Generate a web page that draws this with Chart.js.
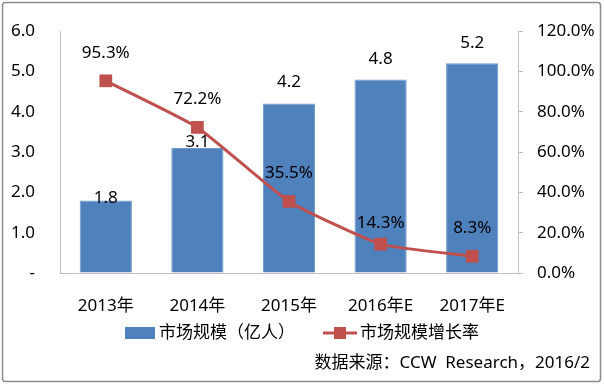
<!DOCTYPE html>
<html>
<head>
<meta charset="utf-8">
<script src="https://cdn.jsdelivr.net/npm/chart.js@4.4.1/dist/chart.umd.min.js"></script>
<style>
html,body{margin:0;padding:0;background:#fff;}
#wrap{width:604px;height:384px;position:relative;}
</style>
</head>
<body>
<div id="wrap"><canvas id="c" width="604" height="384"></canvas></div>
<script>
const categories = ['2013年', '2014年', '2015年', '2016年E', '2017年E'];
const marketSize = [1.8, 3.1, 4.2, 4.8, 5.2];
const growthRate = [95.3, 72.2, 35.5, 14.3, 8.3];
const barName = '市场规模（亿人）';
const lineName = '市场规模增长率';
const sourceText = '数据来源：CCW  Research，2016/2';

const FONT = "'Noto Sans', 'Noto Sans CJK SC', sans-serif";
const BLUE = '#4F81BD';
const RED = '#C0504D';
const AXIS = '#BFBFBF';
const TEXT = '#000000';

// per-bar label lift above bar top (px), as placed in the original
const barLabelLift = [2, 6, 21, 20, 20];

const extras = {
  id: 'extras',
  beforeDraw(chart) {
    const ctx = chart.ctx;
    ctx.save();
    ctx.fillStyle = '#fff';
    ctx.fillRect(0, 0, chart.width, chart.height);
    ctx.strokeStyle = '#8C8C8C';
    ctx.lineWidth = 1.5;
    ctx.beginPath();
    ctx.roundRect(2.5, 2.5, 598, 379, 3);
    ctx.stroke();
    ctx.restore();
  },
  afterDatasetsDraw(chart) {
    const ctx = chart.ctx;
    ctx.save();
    ctx.font = '17px ' + FONT;
    ctx.fillStyle = TEXT;
    ctx.textAlign = 'center';
    ctx.textBaseline = 'middle';
    chart.getDatasetMeta(1).data.forEach((el, i) => {
      ctx.fillText(marketSize[i].toFixed(1), el.x, el.y - barLabelLift[i]);
    });
    chart.getDatasetMeta(0).data.forEach((el, i) => {
      const lift = i === 3 ? 21 : 28;
      ctx.fillText(growthRate[i].toFixed(1) + '%', el.x, el.y - lift);
    });
    ctx.restore();
  },
  afterDraw(chart) {
    const ctx = chart.ctx;
    ctx.save();
    ctx.font = '17px ' + FONT;
    ctx.fillStyle = TEXT;
    ctx.textBaseline = 'middle';
    ctx.textAlign = 'left';
    const ly = 333;
    ctx.fillStyle = BLUE;
    ctx.fillRect(125, ly - 6, 30, 12);
    ctx.fillStyle = TEXT;
    ctx.fillText(barName, 159, ly);
    ctx.strokeStyle = RED;
    ctx.lineWidth = 3;
    ctx.beginPath();
    ctx.moveTo(323, ly);
    ctx.lineTo(357, ly);
    ctx.stroke();
    ctx.fillStyle = RED;
    ctx.fillRect(334, ly - 6, 12, 12);
    ctx.fillStyle = TEXT;
    ctx.fillText(lineName, 360, ly);
    ctx.textAlign = 'right';
    ctx.fillText(sourceText, 590, 363);
    ctx.restore();
  }
};

new Chart(document.getElementById('c'), {
  data: {
    labels: categories,
    datasets: [
      {
        type: 'line',
        label: lineName,
        data: growthRate,
        yAxisID: 'y2',
        borderColor: RED,
        backgroundColor: RED,
        borderWidth: 3,
        pointStyle: 'rect',
        pointRadius: 9,
        pointHoverRadius: 9,
        pointBackgroundColor: RED,
        pointBorderColor: RED,
        pointBorderWidth: 0,
        tension: 0.15,
        order: 0
      },
      {
        type: 'bar',
        label: barName,
        data: marketSize,
        yAxisID: 'y',
        backgroundColor: BLUE,
        borderColor: '#6F98CC',
        borderWidth: 1,
        categoryPercentage: 0.57,
        barPercentage: 1,
        order: 1
      }
    ]
  },
  options: {
    responsive: false,
    animation: false,
    events: [],
    layout: { padding: { top: 31, left: 0, right: 0, bottom: 0 } },
    plugins: { legend: { display: false }, tooltip: { enabled: false } },
    scales: {
      x: {
        offset: true,
        grid: { display: true, drawOnChartArea: false, drawTicks: false },
        border: { display: true, color: AXIS, width: 1 },
        ticks: { color: TEXT, font: { family: FONT, size: 17 }, padding: 23, maxRotation: 0 },
        afterFit(s) { s.height = 111; s.paddingLeft = 0; s.paddingRight = 0; }
      },
      y: {
        position: 'left',
        min: 0, max: 6,
        grid: { display: true, drawOnChartArea: false, drawTicks: false },
        border: { display: true, color: AXIS, width: 1 },
        ticks: {
          stepSize: 1,
          color: TEXT,
          font: { family: FONT, size: 17 },
          padding: 25,
          callback: v => v === 0 ? '-' : v.toFixed(1)
        },
        afterFit(s) { s.width = 60; s.paddingTop = 0; s.paddingBottom = 0; }
      },
      y2: {
        position: 'right',
        min: 0, max: 120,
        grid: { display: true, drawOnChartArea: false, drawTicks: true, tickLength: 5, color: AXIS },
        border: { display: true, color: AXIS, width: 1 },
        ticks: {
          stepSize: 20,
          color: TEXT,
          font: { family: FONT, size: 17 },
          padding: 14,
          callback: v => v.toFixed(1) + '%'
        },
        afterFit(s) { s.width = 86; s.paddingTop = 0; s.paddingBottom = 0; }
      }
    }
  },
  plugins: [extras]
});
</script>
</body>
</html>
